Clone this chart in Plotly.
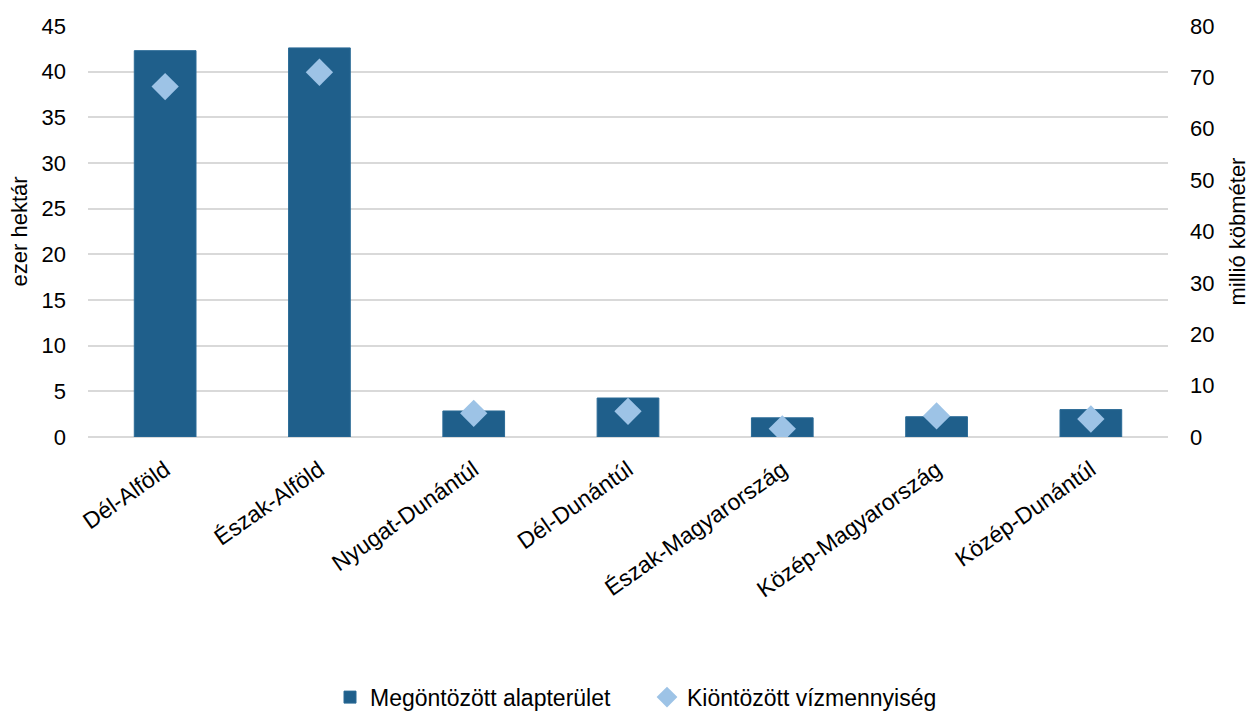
import plotly.graph_objects as go

categories = ["Dél-Alföld", "Észak-Alföld", "Nyugat-Dunántúl", "Dél-Dunántúl",
              "Észak-Magyarország", "Közép-Magyarország", "Közép-Dunántúl"]
area_thousand_ha = [42.3, 42.6, 2.85, 4.27, 2.1, 2.22, 3.0]
water_million_m3 = [68.2, 71.0, 4.6, 5.0, 1.6, 4.1, 3.5]

left_ticks = [0, 5, 10, 15, 20, 25, 30, 35, 40, 45]
right_ticks = [0, 10, 20, 30, 40, 50, 60, 70, 80]

FONT = "Liberation Sans, Arial, sans-serif"
GRID = "#d9d9d9"

fig = go.Figure()
fig.add_trace(go.Bar(
    x=categories, y=area_thousand_ha, name="Megöntözött alapterület",
    marker=dict(color="#1f5f8b", line=dict(color="#2a6a96", width=1)),
    width=0.4, yaxis="y",
))
fig.add_trace(go.Scatter(
    x=categories, y=water_million_m3, name="Kiöntözött vízmennyiség",
    mode="markers", marker=dict(symbol="diamond", size=21, color="#9dc3e6"),
    yaxis="y2",
))

fig.update_layout(
    width=1250, height=711,
    paper_bgcolor="white", plot_bgcolor="white",
    margin=dict(l=88, r=82, t=26, b=274, autoexpand=False),
    font=dict(family=FONT, size=22, color="#000000"),
    showlegend=True,
    legend=dict(orientation="h", x=(330 - 88) / 1080, y=-0.633,
                xanchor="left", yanchor="middle",
                font=dict(size=23), itemwidth=30, traceorder="normal",
                entrywidth=272, entrywidthmode="pixels", tracegroupgap=0),
    xaxis=dict(
        type="category", categoryorder="array", categoryarray=categories,
        tickangle=-35, tickfont=dict(size=23), showgrid=False,
        showline=False, zeroline=False, ticks="", ticklabelstandoff=14,
        automargin=False,
    ),
    yaxis=dict(
        range=[0, 45], tickvals=left_ticks, showgrid=True, gridcolor=GRID,
        gridwidth=1.5, zeroline=True, zerolinecolor=GRID, zerolinewidth=1.5,
        tickfont=dict(size=22), ticklabelstandoff=21, automargin=False,
        fixedrange=True,
    ),
    yaxis2=dict(
        range=[0, 80], tickvals=right_ticks, overlaying="y", side="right",
        showgrid=False, zeroline=False, tickfont=dict(size=22),
        ticklabelstandoff=21, automargin=False, fixedrange=True,
    ),
    annotations=[
        dict(text="ezer hektár", xref="paper", yref="paper", x=-0.063, y=0.5,
             xanchor="center", yanchor="middle", textangle=-90, showarrow=False,
             font=dict(size=22)),
        dict(text="millió köbméter", xref="paper", yref="paper", x=1.0648, y=0.5,
             xanchor="center", yanchor="middle", textangle=-90, showarrow=False,
             font=dict(size=22)),
    ],
)

fig.write_html("out.html", config={"displayModeBar": False},
               post_script="document.body.style.margin='0';document.body.style.overflow='hidden';")
